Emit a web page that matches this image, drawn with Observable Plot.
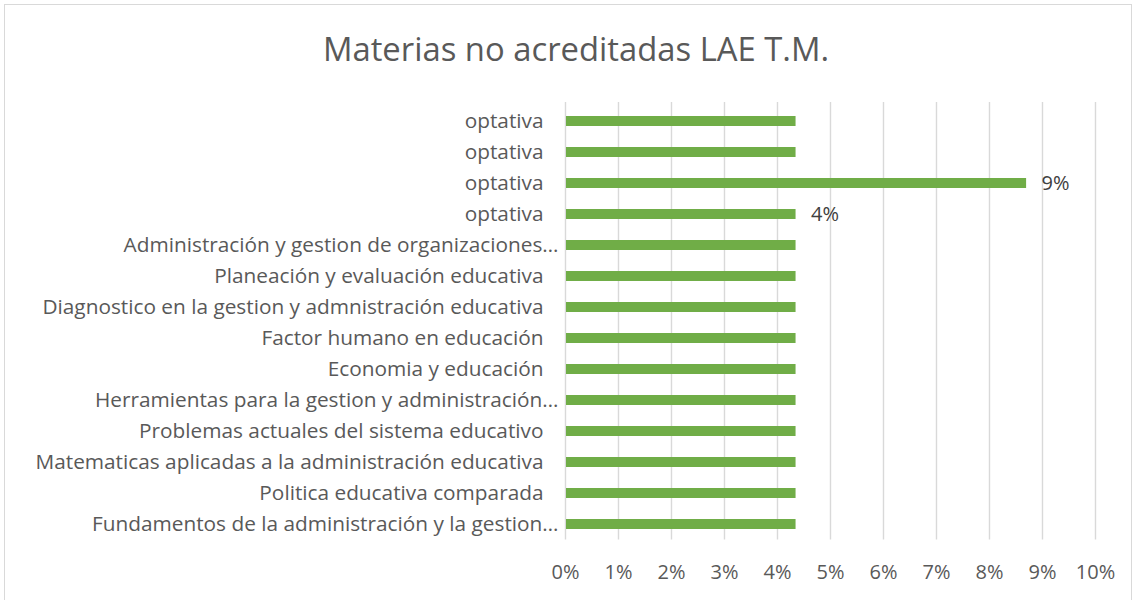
<!DOCTYPE html>
<html>
<head>
<meta charset="utf-8">
<script src="https://cdn.jsdelivr.net/npm/d3@7"></script>
<script src="https://cdn.jsdelivr.net/npm/@observablehq/plot@0.6"></script>
<style>
  html, body { margin: 0; padding: 0; background: #fff; }
  #wrap { position: relative; width: 1135px; height: 600px; overflow: hidden; font-family: "Open Sans", sans-serif; }
  #frame { position: absolute; left: 4px; top: 4px; width: 1128px; height: 600px; border: 1.5px solid #d9d9d9; box-sizing: border-box; }
  #title { position: absolute; left: 0; top: 26px; width: 1152px; text-align: center; font-size: 32.8px; color: #595959; line-height: 46px; }
  #chart { position: absolute; left: 0; top: 95px; }
</style>
</head>
<body>
<div id="wrap">
  <div id="frame"></div>
  <div id="title">Materias no acreditadas LAE T.M.</div>
  <div id="chart"></div>
</div>
<script>
// Categories listed top to bottom
const categories = [
  "optativa",
  "optativa",
  "optativa",
  "optativa",
  "Administración y gestion de organizaciones…",
  "Planeación y evaluación educativa",
  "Diagnostico en la gestion y admnistración educativa",
  "Factor humano en educación",
  "Economia y educación",
  "Herramientas para la gestion y administración…",
  "Problemas actuales del sistema educativo",
  "Matematicas aplicadas a la administración educativa",
  "Politica educativa comparada",
  "Fundamentos de la administración y la gestion…"
];
const values = [0.0435, 0.0435, 0.087, 0.0435, 0.0435, 0.0435, 0.0435, 0.0435, 0.0435, 0.0435, 0.0435, 0.0435, 0.0435, 0.0435];
const dataLabels = ["", "", "9%", "4%", "", "", "", "", "", "", "", "", "", ""];
const xTicks = [0, 0.01, 0.02, 0.03, 0.04, 0.05, 0.06, 0.07, 0.08, 0.09, 0.10];

const rows = categories.map((c, i) => ({idx: i, label: c, value: values[i], dl: dataLabels[i]}));
const truncated = rows.filter(d => d.label.endsWith("…"));
const full = rows.filter(d => !d.label.endsWith("…"));

const chart = Plot.plot({
  width: 1135,
  height: 500,
  marginLeft: 565,
  marginRight: 40,
  marginTop: 9.5,
  marginBottom: 55.5,
  style: {fontFamily: "'Open Sans', sans-serif", background: "transparent"},
  x: {domain: [0, 0.10], ticks: xTicks, tickFormat: d => Math.round(d * 100) + "%", label: null},
  y: {domain: d3.range(categories.length), paddingInner: 0.68, paddingOuter: 0.34, axis: null},
  marks: [
    Plot.gridX(xTicks, {stroke: "#d9d9d9", strokeOpacity: 1, strokeWidth: 1.4, insetTop: -2.5}),
    Plot.barX(rows, {y: "idx", x: "value", fill: "#70AD47", insetLeft: 1}),
    Plot.text(truncated, {y: "idx", x: 0, text: "label", textAnchor: "end", dx: -7, fontSize: 20.8, fill: "#595959"}),
    Plot.text(full, {y: "idx", x: 0, text: "label", textAnchor: "end", dx: -22, fontSize: 20.8, fill: "#595959"}),
    Plot.text(rows.filter(d => d.dl), {y: "idx", x: "value", text: "dl", textAnchor: "start", dx: 15, fontSize: 20, fill: "#404040"}),
    Plot.axisX(xTicks, {tickSize: 0, tickPadding: 25, fontSize: 20, fill: "#595959", tickFormat: d => Math.round(d * 100) + "%", label: null})
  ]
});
document.getElementById("chart").appendChild(chart);
</script>
</body>
</html>
